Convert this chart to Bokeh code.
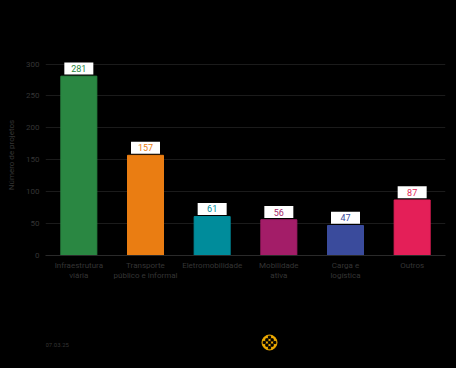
from bokeh.plotting import figure
from bokeh.models import ColumnDataSource, FixedTicker, Range1d
from bokeh.layouts import column
from bokeh.embed import file_html
from bokeh.resources import INLINE
from bokeh.core.properties import value

categories = ["Infraestrutura\nviária", "Transporte\npúblico e informal", "Eletromobilidade",
              "Mobilidade\nativa", "Carga e\nlogística", "Outros"]
counts = [281, 157, 61, 56, 47, 87]
colors = ["#2a8742", "#ea7d12", "#008c9b", "#a31d68", "#3a4b9c", "#e41f58"]
y_ticks = [0, 50, 100, 150, 200, 250, 300]
y_label = "Número de projetos"
date_text = "07.03.25"

TXT = "#353535"
FONT = "Roboto"

src = ColumnDataSource(dict(cat=categories, n=counts, col=colors,
                            lab=[str(c) for c in counts],
                            ly=[c + 12 for c in counts]))

p = figure(x_range=categories, y_range=Range1d(0, 315), width=456, height=298,
           output_backend="svg", toolbar_location=None,
           background_fill_color=None, border_fill_color=None,
           min_border_left=45, min_border_right=11, min_border_top=54, min_border_bottom=43)
p.outline_line_color = None
p.vbar(x="cat", top="n", width=0.54, color="col", source=src)
p.rect(x="cat", y="ly", width=29, height=12, width_units="screen", height_units="screen",
       fill_color="white", line_color=None, source=src)
p.text(x="cat", y="ly", text="lab", text_color="col", text_align="center",
       text_baseline="middle", text_font=value(FONT), text_font_size="9px", source=src)

p.xgrid.grid_line_color = None
p.ygrid.grid_line_color = "#1b1b1b"
p.ygrid.ticker = FixedTicker(ticks=y_ticks)
p.yaxis.ticker = FixedTicker(ticks=y_ticks)
p.yaxis.axis_line_color = None
p.yaxis.major_tick_line_color = None
p.yaxis.minor_tick_line_color = None
p.yaxis.major_tick_out = 0
p.yaxis.major_tick_in = 0
p.yaxis.minor_tick_out = 0
p.yaxis.major_label_text_color = TXT
p.yaxis.major_label_text_font = FONT
p.yaxis.major_label_text_font_size = "8px"
p.yaxis.major_label_standoff = 6
p.yaxis.axis_label = y_label
p.yaxis.axis_label_text_color = TXT
p.yaxis.axis_label_text_font = FONT
p.yaxis.axis_label_text_font_size = "8px"
p.yaxis.axis_label_text_font_style = "normal"
p.yaxis.axis_label_standoff = 7

p.xaxis.axis_line_color = "#2a2a2a"
p.xaxis.major_tick_line_color = None
p.xaxis.minor_tick_line_color = None
p.xaxis.major_tick_out = 0
p.xaxis.major_tick_in = 0
p.xaxis.minor_tick_out = 0
p.xaxis.major_label_text_color = TXT
p.xaxis.major_label_text_font = FONT
p.xaxis.major_label_text_font_size = "8px"
p.xaxis.major_label_standoff = 5

# footer (its frame is aligned with the main frame: 45..445 px)
f = figure(x_range=Range1d(45, 445), y_range=Range1d(0, 70), width=456, height=70,
           output_backend="svg", toolbar_location=None,
           x_axis_location=None, y_axis_location=None,
           background_fill_color=None, border_fill_color=None,
           min_border=0)
f.grid.visible = False
f.outline_line_color = None
f.text(x=[45], y=[24], text=[date_text], text_color=TXT, text_font=value(FONT),
       text_font_size="6px", text_baseline="middle")
# logo
f.scatter(x=[269], y=[26], size=15, marker="circle", color="#eeaa00")
lx, ly = [], []
for i in range(-2, 3):
    for j in range(-2, 3):
        if abs(i) + abs(j) <= 2 and (i + j) % 2 == 0:
            lx.append(269 + i * 2.6)
            ly.append(26 + j * 2.6)
f.scatter(x=lx, y=ly, size=2.2, marker="square", color="black")

layout = column(p, f, spacing=0)
html = file_html(layout, INLINE)
html = html.replace("</head>", "<style>html, body { background-color: #000 !important; }</style></head>", 1)
open("out.html", "w").write(html)
